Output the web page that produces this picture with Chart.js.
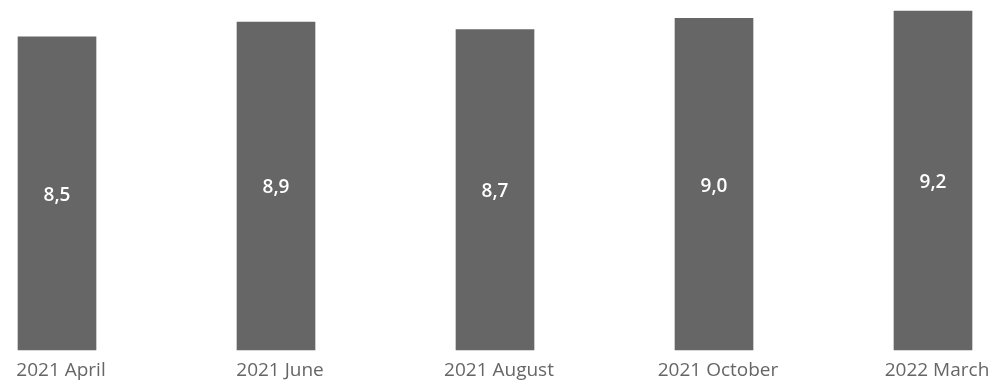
<!DOCTYPE html>
<html>
<head>
<meta charset="utf-8">
<script src="https://cdn.jsdelivr.net/npm/chart.js@4/dist/chart.umd.min.js"></script>
<style>
  html, body { margin: 0; padding: 0; background: #ffffff; }
  #wrap { width: 995px; height: 382px; position: relative; }
</style>
</head>
<body>
<div id="wrap"><canvas id="chart"></canvas></div>
<script>
// Survey periods and their scores
const periods = ['2021 April', '2021 June', '2021 August', '2021 October', '2022 March'];
const scores = [8.5, 8.9, 8.7, 9.0, 9.2];

const BAR_COLOR = '#666666';
const TEXT_COLOR = '#666666';
const FONT = '"Open Sans", "Noto Sans", sans-serif';

// Writes each score in the middle of its bar, with a decimal comma
const valueLabels = {
  id: 'valueLabels',
  afterDatasetsDraw(chart) {
    const ctx = chart.ctx;
    const meta = chart.getDatasetMeta(0);
    ctx.save();
    ctx.fillStyle = '#ffffff';
    ctx.font = '600 19px ' + FONT;
    ctx.textAlign = 'center';
    ctx.textBaseline = 'middle';
    meta.data.forEach((bar, i) => {
      const v = chart.data.datasets[0].data[i];
      const text = v.toFixed(1).replace('.', ',');
      ctx.fillText(text, bar.x, (bar.y + bar.base) / 2 + 2);
    });
    ctx.restore();
  }
};

new Chart(document.getElementById('chart'), {
  type: 'bar',
  data: {
    labels: periods,
    datasets: [{
      data: scores,
      backgroundColor: BAR_COLOR,
      borderWidth: 0,
      barThickness: 78,
      clip: false
    }]
  },
  options: {
    responsive: true,
    maintainAspectRatio: false,
    animation: false,
    layout: { padding: { left: 57, right: 62, top: 0, bottom: 0 } },
    plugins: {
      legend: { display: false },
      tooltip: { enabled: false }
    },
    scales: {
      x: {
        offset: false,
        grid: { display: false, drawTicks: false },
        border: { display: false },
        afterFit(scale) { scale.height = 32; },
        ticks: {
          color: TEXT_COLOR,
          font: { family: FONT, size: 19 },
          padding: 9,
          labelOffset: 4,
          maxRotation: 0,
          autoSkip: false
        }
      },
      y: {
        display: false,
        min: 0,
        max: 9.5
      }
    }
  },
  plugins: [valueLabels]
});
</script>
</body>
</html>
